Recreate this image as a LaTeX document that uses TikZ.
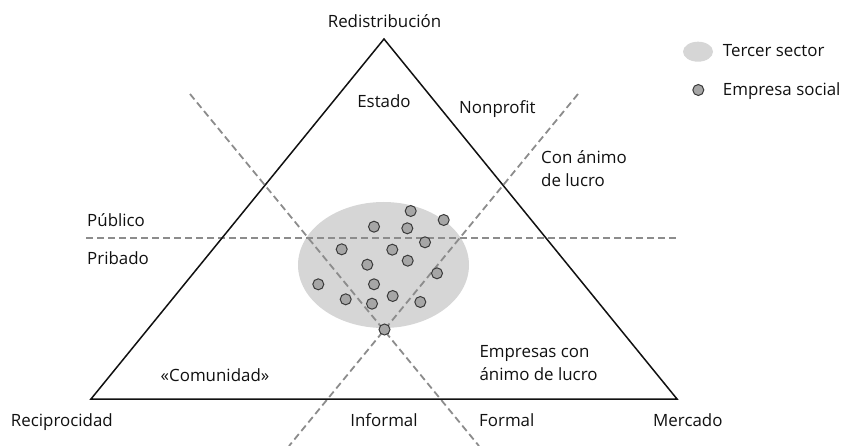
\documentclass[tikz,border=0pt]{standalone}
\usepackage{fontspec}
\setmainfont{Open Sans}
\usetikzlibrary{shapes.geometric}
\definecolor{tsfill}{HTML}{D6D6D6}
\definecolor{dotfill}{HTML}{A6A6A6}
\definecolor{dotline}{HTML}{3A3A3A}
\definecolor{dashcol}{HTML}{8C8C8C}
\definecolor{txt}{HTML}{111111}
\begin{document}
\begin{tikzpicture}[x=1pt,y=-1pt,
  tri/.style={line width=1.5pt, draw=txt, line join=miter},
  dline/.style={draw=dashcol, line width=1.8pt, dash pattern=on 7pt off 4pt},
  dotnode/.style={circle, draw=dotline, fill=dotfill, line width=1pt, minimum size=11pt, inner sep=0pt},
  lbl/.style={font=\fontsize{16.9}{19}\selectfont, inner sep=0pt, text=txt}]
\useasboundingbox (0,0) rectangle (845,446);
% third sector area
\node[ellipse, fill=tsfill, minimum width=171pt, minimum height=126pt, inner sep=0pt] (ts) at (383.5,265) {};
% dashed division lines
\coordinate (H1) at (86,238);
\coordinate (H2) at (678,238);
\coordinate (L1) at (190,94);
\coordinate (L2) at (479,446);
\coordinate (R1) at (578,94);
\coordinate (R2) at (289,446);
\draw[dline] (H1) -- (H2);
\draw[dline] (L1) -- (L2);
\draw[dline] (R1) -- (R2);
% triangle
\coordinate (A) at (384,39);
\coordinate (B) at (91,399);
\coordinate (C) at (677,399);
\draw[tri] (A) -- (B) -- (C) -- cycle;
% social enterprises
\node[dotnode] (d1) at (410.7,211) {};
\node[dotnode] (d2) at (443.7,220) {};
\node[dotnode] (d3) at (374,226.7) {};
\node[dotnode] (d4) at (407.3,228.3) {};
\node[dotnode] (d5) at (425,242.3) {};
\node[dotnode] (d6) at (341.7,249.3) {};
\node[dotnode] (d7) at (392.3,249.7) {};
\node[dotnode] (d8) at (367.3,264.7) {};
\node[dotnode] (d9) at (407.7,260.7) {};
\node[dotnode] (d10) at (437,273.3) {};
\node[dotnode] (d11) at (318.3,284.3) {};
\node[dotnode] (d12) at (374,284.3) {};
\node[dotnode] (d13) at (345.7,299.3) {};
\node[dotnode] (d14) at (372,303.7) {};
\node[dotnode] (d15) at (392.7,296) {};
\node[dotnode] (d16) at (420.3,302) {};
\node[dotnode] (d17) at (384.5,329.5) {};
% labels
\node[lbl, anchor=base] (redis) at (384.5,28) {Redistribución};
\node[lbl, anchor=base] (estado) at (384,108) {Estado};
\node[lbl, anchor=base west] (nonp) at (459,113.3) {Nonprofit};
\node[lbl, anchor=base west] (con1) at (541,164) {Con ánimo};
\node[lbl, anchor=base west] (con2) at (541,186.7) {de lucro};
\node[lbl, anchor=base west] (pub) at (87,226) {Público};
\node[lbl, anchor=base west] (pri) at (87,264) {Pribado};
\node[lbl, anchor=base] (comu) at (215,381.7) {«Comunidad»};
\node[lbl, anchor=base west] (emp1) at (479.3,357.3) {Empresas con};
\node[lbl, anchor=base west] (emp2) at (479.3,380.7) {ánimo de lucro};
\node[lbl, anchor=base east] (reci) at (113,426.7) {Reciprocidad};
\node[lbl, anchor=base] (inf) at (384,426.7) {Informal};
\node[lbl, anchor=base west] (form) at (479,426.7) {Formal};
\node[lbl, anchor=base west] (merc) at (653,426.7) {Mercado};
% legend
\node[ellipse, fill=tsfill, minimum width=30pt, minimum height=20pt, inner sep=0pt] (legts) at (698,51.7) {};
\node[lbl, anchor=base west] (legtst) at (722.7,56.7) {Tercer sector};
\node[dotnode] (legdot) at (698.3,90) {};
\node[lbl, anchor=base west] (legdott) at (722.7,96) {Empresa social};
\end{tikzpicture}
\end{document}
